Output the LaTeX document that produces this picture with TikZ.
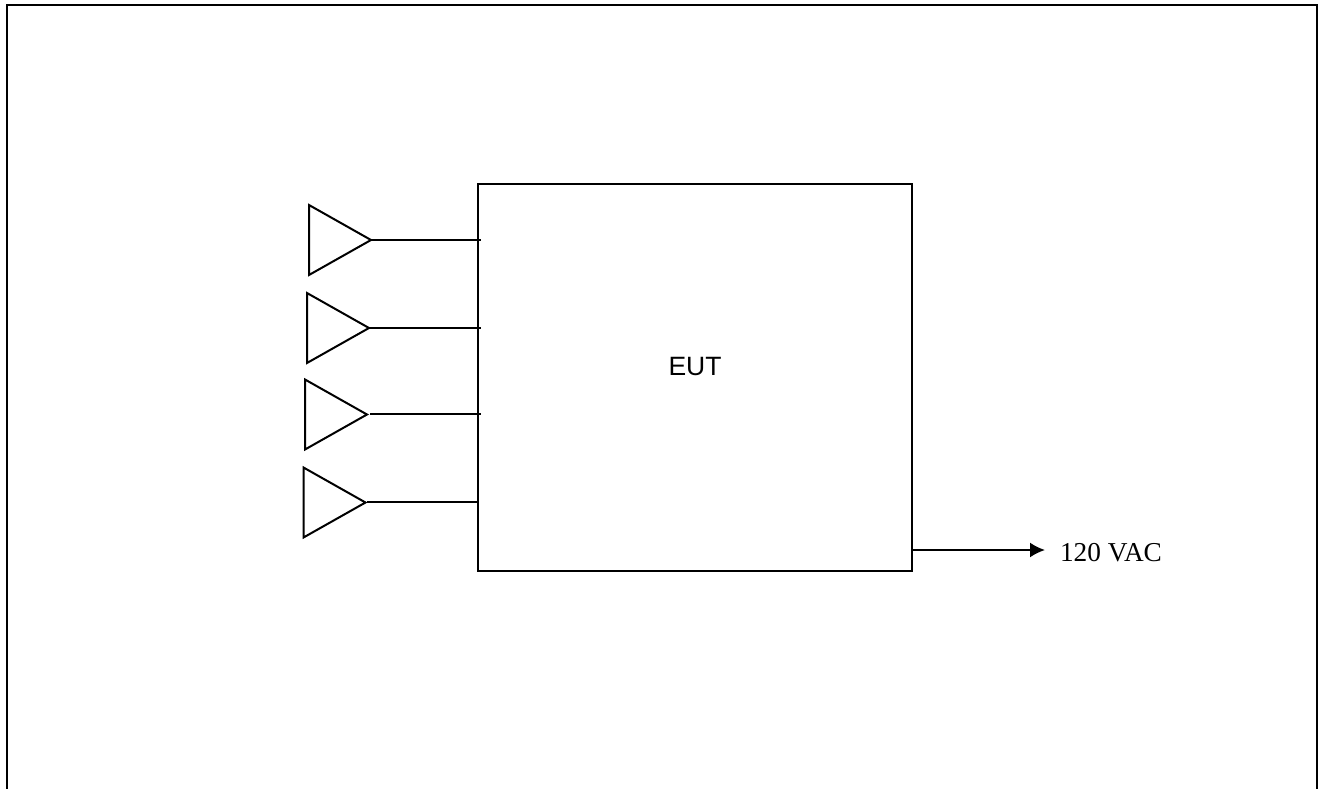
\documentclass[tikz,border=0pt]{standalone}
\usepackage{fontspec}
\setmainfont{Liberation Serif}
\newfontfamily\arialfont{Liberation Sans}
\usetikzlibrary{shapes.geometric,arrows.meta}
\tikzset{
  wire/.style={line width=2pt,black},
  eutbox/.style={draw=black,line width=2pt,fill=white,minimum width=434pt,minimum height=387pt,inner sep=0pt,outer sep=0pt},
  ant/.style={draw=black,line width=2pt,isosceles triangle,isosceles triangle stretches,shape border rotate=0,minimum width=70pt,minimum height=62pt,inner sep=0pt,outer sep=0pt,anchor=apex},
  vac/.style={inner sep=0pt,outer sep=0pt,anchor=west,font=\fontsize{27.3pt}{30pt}\selectfont},
  feed/.style={wire,-{Latex[length=15pt,width=15pt]}}
}
\begin{document}
\begin{tikzpicture}[x=1pt,y=-1pt]
\useasboundingbox (0,0) rectangle (1320,789);
% outer frame, open at the bottom
\draw[wire] (7,789) -- (7,4.7) -- (1317,4.7) -- (1317,789);
% equipment under test
\node[eutbox] (eut) at (695,377.5) {};
\node[font=\arialfont\fontsize{26.5pt}{30pt}\selectfont,inner sep=0pt] (euttext) at (695,366.5) {EUT};
% antennas
\node[ant] (t1) at (371,240) {};
\node[ant] (t2) at (369,328) {};
\node[ant] (t3) at (367,414.5) {};
\node[ant] (t4) at (365.5,502.5) {};
\coordinate (e1) at (481,240);
\coordinate (e2) at (481,328);
\coordinate (e3) at (481,414);
\coordinate (e4) at (478,502);
\coordinate (s1) at (371,240);
\coordinate (s2) at (369,328);
\coordinate (s3) at (370,414);
\coordinate (s4) at (367,502);
\draw[wire] (s1) -- (e1);
\draw[wire] (s2) -- (e2);
\draw[wire] (s3) -- (e3);
\draw[wire] (s4) -- (e4);
% mains
\node[vac] (ac) at (1060,553) {120 VAC};
\coordinate (feedstart) at (912,550);
\coordinate (feedend) at (1045,550);
\draw[feed] (feedstart) -- (feedend);
\end{tikzpicture}
\end{document}
